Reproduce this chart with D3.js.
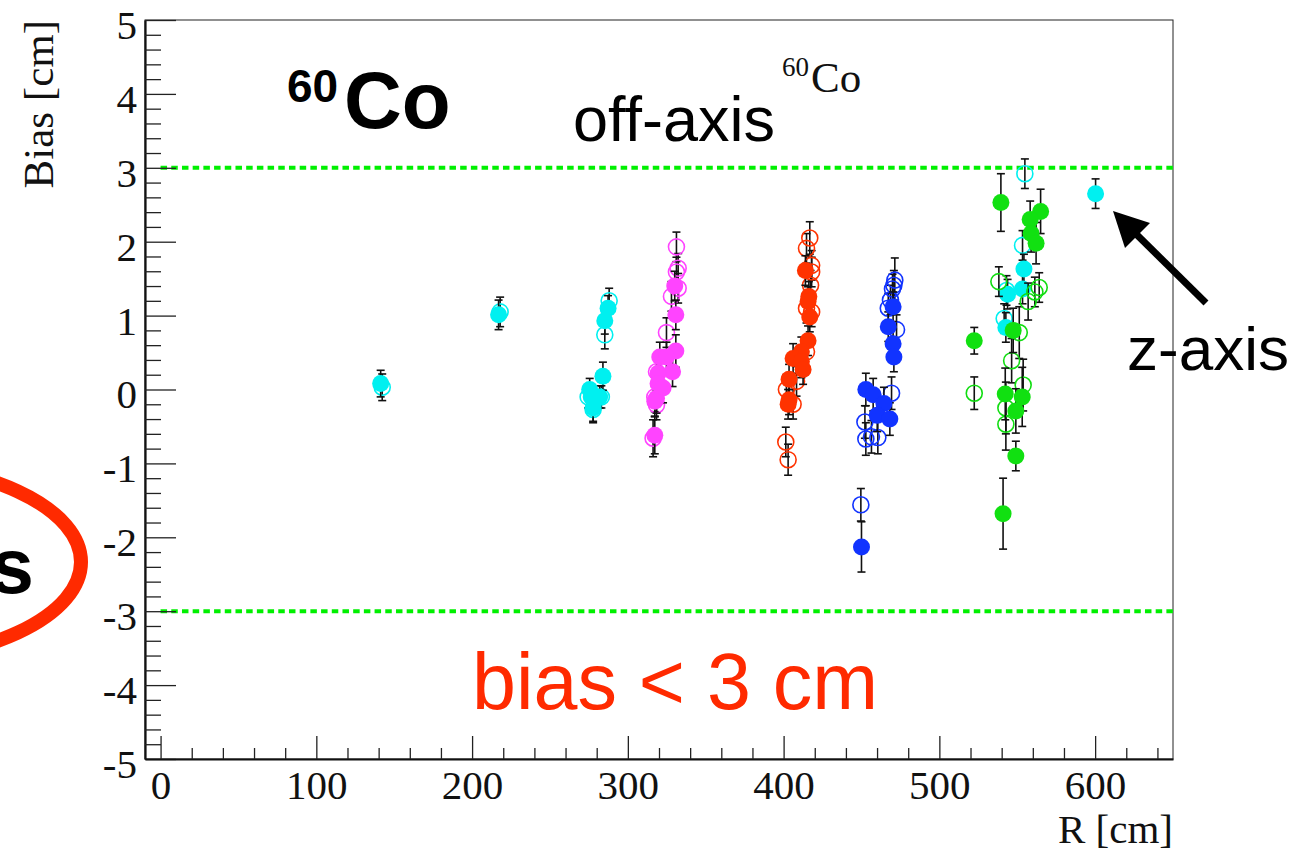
<!DOCTYPE html>
<html>
<head>
<meta charset="utf-8">
<script src="https://cdn.jsdelivr.net/npm/d3@7"></script>
<style>
  html, body { margin: 0; padding: 0; background: #fff; }
  svg { display: block; }
</style>
</head>
<body>
<svg id="chart" width="1307" height="853"></svg>
<script>
// ---- data: [R (cm), bias (cm), error (cm)] ----
const cyanFilled = [
  [141.3, 0.08, 0.18], [217.0, 1.01, 0.20], [287.3, 1.10, 0.17], [285.2, 0.93, 0.18],
  [284.0, 0.18, 0.19], [275.5, 0.00, 0.15], [276.5, -0.10, 0.15], [277.7, -0.25, 0.18],
  [281.9, -0.10, 0.15], [554.3, 1.63, 0.20], [553.4, 1.36, 0.20], [543.8, 1.29, 0.20],
  [542.7, 0.84, 0.20], [600.3, 2.65, 0.20]
];
const cyanOpen = [
  [142.3, 0.03, 0.18], [218.0, 1.05, 0.20], [288.0, 1.20, 0.17], [285.2, 0.74, 0.19],
  [274.5, -0.10, 0.15], [283.0, -0.10, 0.15], [277.7, -0.27, 0.18], [554.9, 2.92, 0.20],
  [553.4, 1.95, 0.20], [543.1, 1.34, 0.20], [541.6, 0.96, 0.20]
];
const magentaFilled = [
  [330.1, 1.40, 0.20], [330.8, 1.01, 0.20], [330.8, 0.52, 0.22], [320.5, 0.44, 0.20],
  [324.8, 0.44, 0.20], [328.7, 0.24, 0.20], [319.4, 0.22, 0.20], [319.4, 0.08, 0.20],
  [322.6, 0.02, 0.20], [318.4, -0.12, 0.20], [317.3, -0.16, 0.20], [317.3, -0.62, 0.25]
];
const magentaOpen = [
  [331.2, 1.93, 0.20], [332.3, 1.64, 0.20], [331.2, 1.59, 0.20], [332.3, 1.37, 0.20],
  [328.0, 1.26, 0.20], [324.8, 0.77, 0.20], [318.4, 0.24, 0.20], [317.3, -0.10, 0.20],
  [318.4, -0.21, 0.20], [316.2, -0.66, 0.25]
];
const redFilled = [
  [414.0, 1.61, 0.20], [416.2, 1.26, 0.20], [415.7, 1.19, 0.20], [416.8, 0.98, 0.20],
  [415.7, 0.66, 0.20], [411.4, 0.51, 0.20], [406.1, 0.42, 0.20], [411.4, 0.38, 0.22],
  [412.5, 0.27, 0.20], [403.5, 0.14, 0.20], [403.5, -0.14, 0.20], [402.9, -0.20, 0.20]
];
const redOpen = [
  [416.8, 2.05, 0.22], [414.7, 1.91, 0.20], [418.0, 1.68, 0.20], [418.0, 1.59, 0.20],
  [417.3, 1.41, 0.20], [414.7, 1.10, 0.20], [418.0, 1.05, 0.20], [414.7, 0.51, 0.20],
  [408.3, 0.11, 0.20], [401.8, 0.00, 0.20], [406.1, -0.20, 0.20], [401.4, -0.71, 0.20],
  [402.9, -0.95, 0.21]
];
const blueFilled = [
  [470.3, 1.12, 0.20], [467.2, 0.85, 0.20], [470.3, 0.62, 0.20], [470.8, 0.44, 0.20],
  [452.8, 0.00, 0.22], [457.5, -0.07, 0.22], [464.4, -0.19, 0.22], [460.1, -0.35, 0.22],
  [468.2, -0.40, 0.22], [450.0, -2.13, 0.34]
];
const blueOpen = [
  [471.4, 1.48, 0.30], [470.8, 1.41, 0.20], [469.9, 1.36, 0.20], [468.6, 1.21, 0.20],
  [467.2, 1.10, 0.20], [472.5, 0.81, 0.20], [469.3, -0.05, 0.22], [452.2, -0.44, 0.22],
  [452.8, -0.67, 0.22], [456.4, -0.64, 0.22], [460.5, -0.65, 0.22], [449.6, -1.56, 0.22]
];
const greenFilled = [
  [539.5, 2.53, 0.39], [565.0, 2.41, 0.30], [558.3, 2.30, 0.25], [558.9, 2.11, 0.25],
  [562.1, 1.98, 0.28], [547.4, 0.80, 0.30], [522.4, 0.66, 0.18], [542.3, -0.06, 0.35],
  [553.2, -0.10, 0.40], [549.1, -0.29, 0.30], [549.1, -0.90, 0.20], [540.9, -1.68, 0.48]
];
const greenOpen = [
  [538.2, 1.46, 0.20], [564.1, 1.38, 0.20], [561.3, 1.32, 0.20], [557.0, 1.19, 0.25],
  [551.3, 0.77, 0.35], [546.4, 0.39, 0.30], [553.8, 0.06, 0.35], [522.4, -0.05, 0.22],
  [542.7, -0.25, 0.35], [542.7, -0.47, 0.35]
];
const xMajorTicks = [0, 100, 200, 300, 400, 500, 600];
const yMajorTicks = [-5, -4, -3, -2, -1, 0, 1, 2, 3, 4, 5];
const limitLines = [3, -3];

// ---- layout ----
const svg = d3.select("#chart");
const L = 145, R = 1173, T = 20, B = 759;
const x = d3.scaleLinear().domain([-10, 650]).range([L, R]);
const y = d3.scaleLinear().domain([-5, 5]).range([B, T]);
const serif = "'Liberation Serif', 'Times New Roman', serif";
const sans = "'Liberation Sans', Arial, Helvetica, sans-serif";

// frame (thin top/right)
svg.append("rect").attr("x", L).attr("y", T).attr("width", R - L).attr("height", B - T)
  .attr("fill", "none").attr("stroke", "#222").attr("stroke-width", 1);

// limit lines
svg.selectAll(".lim").data(limitLines).enter().append("line")
  .attr("x1", x(0)).attr("x2", R).attr("y1", d => y(d)).attr("y2", d => y(d))
  .attr("stroke", "#00f000").attr("stroke-width", 4).attr("stroke-dasharray", "6.5,4.2");

// axes
const yMinor = d3.range(-50, 51, 2).map(v => v / 10).filter(v => !yMajorTicks.includes(v));
const xMinor = d3.range(0, 650, 20).filter(v => !xMajorTicks.includes(v));

const gy = svg.append("g").attr("transform", `translate(${L},0)`);
gy.call(d3.axisLeft(y).tickValues(yMajorTicks).tickSize(-31).tickSizeOuter(0).tickPadding(8)
  .tickFormat(d => String(d)));
gy.append("g").call(d3.axisLeft(y).tickValues(yMinor).tickSize(-16).tickSizeOuter(0).tickFormat(""))
  .select(".domain").remove();
gy.selectAll("text").attr("font-family", serif).attr("font-size", 41).attr("fill", "#111")
  .attr("dy", "0.45em");

const gx = svg.append("g").attr("transform", `translate(0,${B})`);
gx.call(d3.axisBottom(x).tickValues(xMajorTicks).tickSize(-23).tickSizeOuter(0).tickPadding(11)
  .tickFormat(d => String(d)));
gx.append("g").call(d3.axisBottom(x).tickValues(xMinor).tickSize(-11).tickSizeOuter(0).tickFormat(""))
  .select(".domain").remove();
gx.selectAll("text").attr("font-family", serif).attr("font-size", 41).attr("fill", "#111");

svg.selectAll(".domain").attr("stroke", "#111").attr("stroke-width", 2.2);
svg.selectAll(".tick line").attr("stroke", "#222").attr("stroke-width", 1.3);

// axis titles
svg.append("text").attr("x", R).attr("y", 843).attr("text-anchor", "end")
  .attr("font-family", serif).attr("font-size", 41).attr("fill", "#111").text("R [cm]");
svg.append("text").attr("transform", "translate(53,20) rotate(-90)").attr("text-anchor", "end")
  .attr("font-family", serif).attr("font-size", 43).attr("fill", "#111").text("Bias [cm]");

// series
const series = [
  { data: cyanOpen, color: "#00f0f0", open: true },
  { data: cyanFilled, color: "#00f0f0", open: false },
  { data: magentaOpen, color: "#ff44ff", open: true },
  { data: magentaFilled, color: "#ff44ff", open: false },
  { data: redOpen, color: "#ff3300", open: true },
  { data: redFilled, color: "#ff3300", open: false },
  { data: blueOpen, color: "#1133ff", open: true },
  { data: blueFilled, color: "#1133ff", open: false },
  { data: greenOpen, color: "#11dd11", open: true },
  { data: greenFilled, color: "#11e011", open: false }
];
const cap = 4;
series.forEach(s => {
  const g = svg.append("g");
  const eb = g.selectAll(".eb").data(s.data).enter().append("g");
  eb.append("line").attr("x1", d => x(d[0])).attr("x2", d => x(d[0]))
    .attr("y1", d => y(d[1] + d[2])).attr("y2", d => y(d[1] - d[2]))
    .attr("stroke", "#111").attr("stroke-width", 1.6);
  eb.append("line").attr("x1", d => x(d[0]) - cap).attr("x2", d => x(d[0]) + cap)
    .attr("y1", d => y(d[1] + d[2])).attr("y2", d => y(d[1] + d[2]))
    .attr("stroke", "#111").attr("stroke-width", 1.6);
  eb.append("line").attr("x1", d => x(d[0]) - cap).attr("x2", d => x(d[0]) + cap)
    .attr("y1", d => y(d[1] - d[2])).attr("y2", d => y(d[1] - d[2]))
    .attr("stroke", "#111").attr("stroke-width", 1.6);
  g.selectAll(".mk").data(s.data).enter().append("circle")
    .attr("cx", d => x(d[0])).attr("cy", d => y(d[1]))
    .attr("r", s.open ? 8 : 8.5)
    .attr("fill", s.open ? "none" : s.color)
    .attr("stroke", s.color).attr("stroke-width", s.open ? 1.6 : 0);
});

// annotations
const co = svg.append("text").attr("font-family", sans).attr("font-weight", "bold").attr("fill", "#000");
co.append("tspan").attr("x", 287).attr("y", 102).attr("font-size", 46).text("60");
co.append("tspan").attr("x", 344).attr("y", 128).attr("font-size", 80).text("Co");

svg.append("text").attr("x", 573).attr("y", 141).attr("font-family", sans).attr("font-size", 63)
  .attr("fill", "#000").text("off-axis");
const co2 = svg.append("text").attr("font-family", serif).attr("fill", "#111");
co2.append("tspan").attr("x", 782).attr("y", 76).attr("font-size", 27).text("60");
co2.append("tspan").attr("x", 811).attr("y", 92).attr("font-size", 43).text("Co");

svg.append("text").attr("x", 1127).attr("y", 370).attr("font-family", sans).attr("font-size", 62)
  .attr("fill", "#000").text("z-axis");

svg.append("text").attr("x", 472).attr("y", 709).attr("font-family", sans).attr("font-size", 79)
  .attr("fill", "#ff2a00").text("bias < 3 cm");

// arrow
svg.append("line").attr("x1", 1206).attr("y1", 303).attr("x2", 1130).attr("y2", 228)
  .attr("stroke", "#000").attr("stroke-width", 7);
svg.append("polygon").attr("points", "1113,211 1150,223 1125,248").attr("fill", "#000");

// partial red ellipse with "s" on the left edge
svg.append("ellipse").attr("cx", -135).attr("cy", 562).attr("rx", 216).attr("ry", 100)
  .attr("fill", "none").attr("stroke", "#ff2a00").attr("stroke-width", 14);
svg.append("text").attr("x", 34).attr("y", 593).attr("text-anchor", "end")
  .attr("font-family", sans).attr("font-weight", "bold").attr("font-size", 78)
  .attr("fill", "#000").text("s");
</script>
</body>
</html>
